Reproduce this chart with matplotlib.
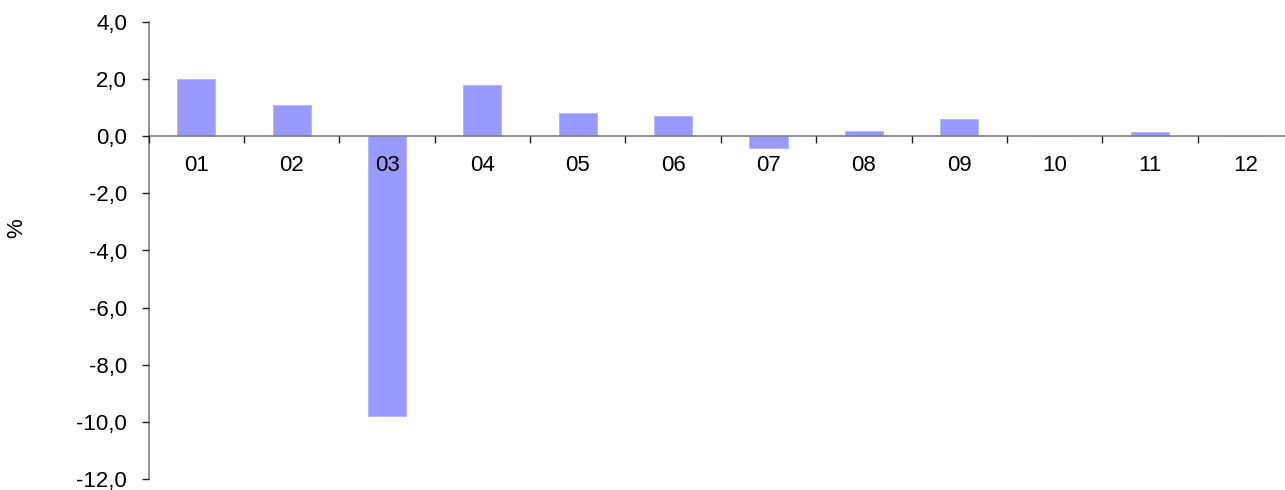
import numpy as np
import matplotlib.pyplot as plt
from matplotlib.ticker import FuncFormatter, FixedLocator

months = ['01', '02', '03', '04', '05', '06', '07', '08', '09', '10', '11', '12']
change_pct = [2.0, 1.1, -9.8, 1.8, 0.8, 0.7, -0.4, 0.2, 0.6, 0.0, 0.15, 0.0]
y_ticks = [4, 2, 0, -2, -4, -6, -8, -10, -12]

plt.rcParams['font.family'] = ['Liberation Sans', 'DejaVu Sans']

fig = plt.figure(figsize=(12.85, 4.9), dpi=100)
# plot area runs a little past the right edge of the image, as in the source
ax = fig.add_axes([148.6/1285, 1 - 479/490, 1144.4/1285, 457/490])
ax.set_axisbelow(False)

x = np.arange(len(months))
ax.bar(x, change_pct, width=0.4, color='#9999ff', edgecolor='#b3b3ff', linewidth=0.6, zorder=1)

ax.set_xlim(-0.5, len(months) - 0.5)
ax.set_ylim(-12, 4)
ax.set_yticks(y_ticks)
ax.yaxis.set_major_formatter(FuncFormatter(lambda v, p: f'{v:.1f}'.replace('.', ',')))

ax.spines['top'].set_visible(False)
ax.spines['right'].set_visible(False)
ax.spines['bottom'].set_position(('data', 0))
for s in ('left', 'bottom'):
    ax.spines[s].set_color('#808080')
    ax.spines[s].set_linewidth(1.2)

# labels at centres, tick marks at category boundaries
ax.set_xticks(x)
ax.set_xticklabels(months)
ax.xaxis.set_minor_locator(FixedLocator(np.arange(-0.5, len(months), 1.0)))
ax.tick_params(axis='x', which='major', length=0, pad=13.5, labelsize=16)
ax.tick_params(axis='x', which='minor', length=5, width=1, color='#202020', direction='out')
ax.tick_params(axis='y', length=5, width=1, color='#202020', labelsize=16, pad=10.5)

fig.text(17/1285, 1 - 228/490, '%', rotation=90, fontsize=16, ha='center', va='center')

fig.savefig('out.png', dpi=100)
